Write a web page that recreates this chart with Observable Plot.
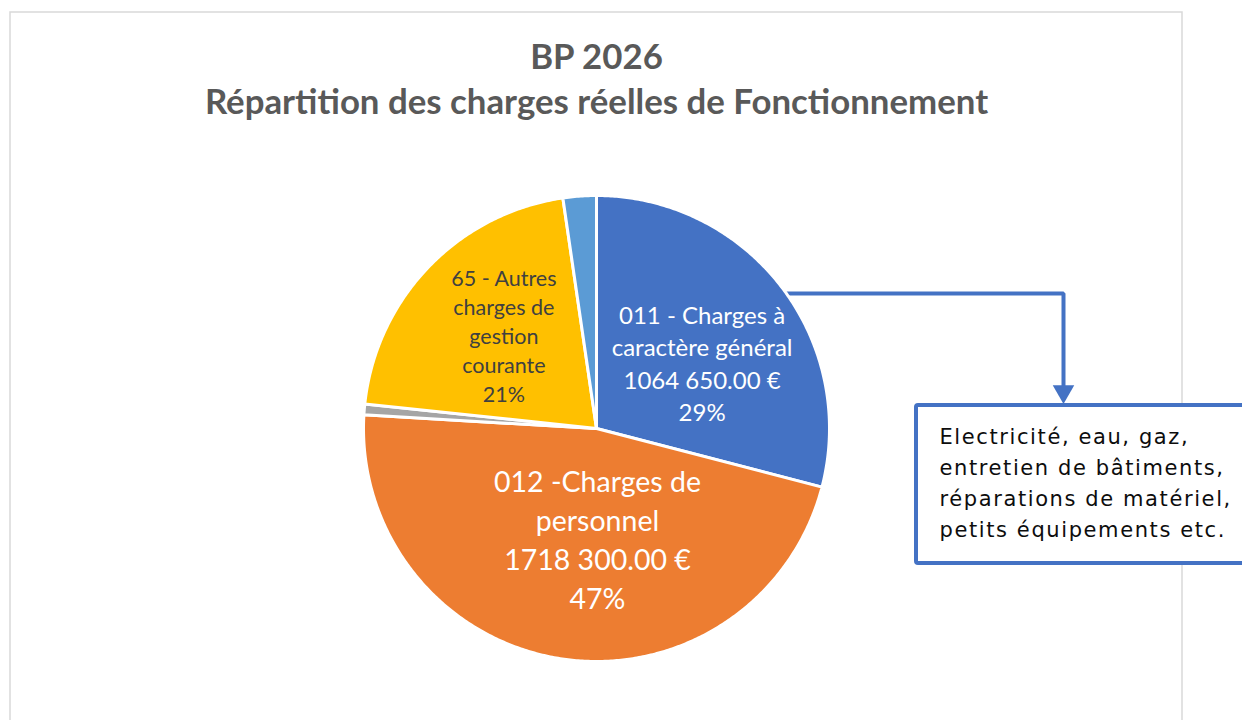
<!DOCTYPE html>
<html>
<head>
<meta charset="utf-8">
<script src="https://cdn.jsdelivr.net/npm/d3@7"></script>
<script src="https://cdn.jsdelivr.net/npm/@observablehq/plot@0.6"></script>
<style>
  html, body { margin: 0; padding: 0; background: #ffffff; }
  #chart { width: 1242px; height: 720px; overflow: hidden; }
</style>
</head>
<body>
<div id="chart"></div>
<script>
// ---------- DATA ----------
const categories = [
  "011 - Charges à caractère général",
  "012 -Charges de personnel",
  "Autres charges (gris)",
  "65 - Autres charges de gestion courante",
  "Autres charges (bleu clair)"
];
const values = [1064650, 1718300, 27500, 770000, 84500];
const colors = ["#4472C4", "#ED7D31", "#A5A5A5", "#FFC000", "#5B9BD5"];
const labelNames = [
  "011 - Charges à\ncaractère général",
  "012 -Charges de\npersonnel",
  "",
  "65 - Autres\ncharges de\ngestion\ncourante",
  ""
];
const amountLabels = ["1064 650.00 €", "1718 300.00 €", "", "", ""];
const titleLines = ["BP 2026", "Répartition des charges réelles de Fonctionnement"];
const calloutLines = [
  "Electricité, eau, gaz,",
  "entretien de bâtiments,",
  "réparations de matériel,",
  "petits équipements etc."
];

// ---------- LAYOUT ----------
const W = 1242, H = 720;
const pie = {cx: 596, cy: 428, r: 233};
// label placement: angle shift (deg) from slice middle, radius fraction, font size, colour
const labelStyle = [
  {shift: 5.6, frac: 0.535, size: 24, lh: 1.35, color: "white"},
  {shift: -9.5, frac: 0.47, size: 28.5, lh: 1.36, color: "white"},
  null,
  {shift: 1.4, frac: 0.565, size: 21.5, lh: 1.35, color: "#404040"},
  null
];

// ---------- BUILD ----------
const total = d3.sum(values);
const arcs = d3.pie().sort(null).value(d => d)(values);
const toXY = (a, rr) => [pie.cx + rr * Math.sin(a), pie.cy - rr * Math.cos(a)];

const slicePts = [];
arcs.forEach((a, i) => {
  slicePts.push({cat: categories[i], x: pie.cx, y: pie.cy});
  const n = Math.max(2, Math.ceil((a.endAngle - a.startAngle) / (Math.PI / 360)));
  for (let k = 0; k <= n; k++) {
    const t = a.startAngle + (a.endAngle - a.startAngle) * k / n;
    const [x, y] = toXY(t, pie.r);
    slicePts.push({cat: categories[i], x, y});
  }
});

const labels = [];
arcs.forEach((a, i) => {
  const st = labelStyle[i];
  if (!st) return;
  const mid = (a.startAngle + a.endAngle) / 2 + st.shift * Math.PI / 180;
  const [x, y] = toXY(mid, pie.r * st.frac);
  const pct = Math.round(values[i] / total * 100) + "%";
  const parts = [labelNames[i]];
  if (amountLabels[i]) parts.push(amountLabels[i]);
  parts.push(pct);
  labels.push({x, y, text: parts.join("\n"), size: st.size, lh: st.lh, color: st.color});
});

// annotation geometry (pixel space)
const frame = [{x1: 10, x2: 1182, y1: 12, y2: 740}];
const connector = [{x: 760, y: 293}, {x: 1063, y: 293}, {x: 1063, y: 386}];
const arrowHead = [{x: 1063, y: 391}];
const box = [{x1: 916, x2: 1262, y1: 405, y2: 563}];
const calloutText = calloutLines.map((t, i) => ({x: 939, y: 437 + i * 31, text: t}));
const titleData = titleLines.map((t, i) => ({x: pie.cx, y: 57 + i * 45, text: t}));

const font = "Lato, 'Open Sans', sans-serif";

const chart = Plot.plot({
  width: W,
  height: H,
  margin: 0,
  x: {domain: [0, W], range: [0, W], axis: null},
  y: {domain: [0, H], range: [0, H], axis: null},
  color: {domain: categories, range: colors},
  style: {fontFamily: font, background: "white"},
  marks: [
    Plot.rect(frame, {x1: "x1", x2: "x2", y1: "y1", y2: "y2", fill: "none", stroke: "#D9D9D9", strokeWidth: 1.5}),
    Plot.text(titleData, {x: "x", y: "y", text: "text", fontSize: 34.8, fontWeight: "bold", fill: "#595959", textAnchor: "middle"}),
    Plot.line(connector, {x: "x", y: "y", stroke: "#4472C4", strokeWidth: 4, strokeLinejoin: "miter"}),
    Plot.dot(arrowHead, {x: "x", y: "y", symbol: "triangle", r: 8, rotate: 180, fill: "#4472C4", stroke: "none"}),
    Plot.line(slicePts, {x: "x", y: "y", z: "cat", fill: "cat", stroke: "white", strokeWidth: 3, curve: "linear-closed", strokeLinejoin: "round"}),
    ...labels.map(l => Plot.text([l], {x: "x", y: "y", text: "text", fontSize: l.size, lineHeight: l.lh, fill: l.color, textAnchor: "middle", lineAnchor: "middle"})),
    Plot.rect(box, {x1: "x1", x2: "x2", y1: "y1", y2: "y2", fill: "white", stroke: "#4472C4", strokeWidth: 4, rx: 2}),
    Plot.text(calloutText, {x: "x", y: "y", text: "text", fontSize: 21, fill: "#0d0d0d", textAnchor: "start", fontFamily: "'DejaVu Sans', sans-serif"})
  ]
});
d3.select(chart).selectAll("text")
  .filter(function() { return calloutLines.includes(this.textContent); })
  .style("letter-spacing", "1.6px");
document.getElementById("chart").appendChild(chart);
</script>
</body>
</html>
